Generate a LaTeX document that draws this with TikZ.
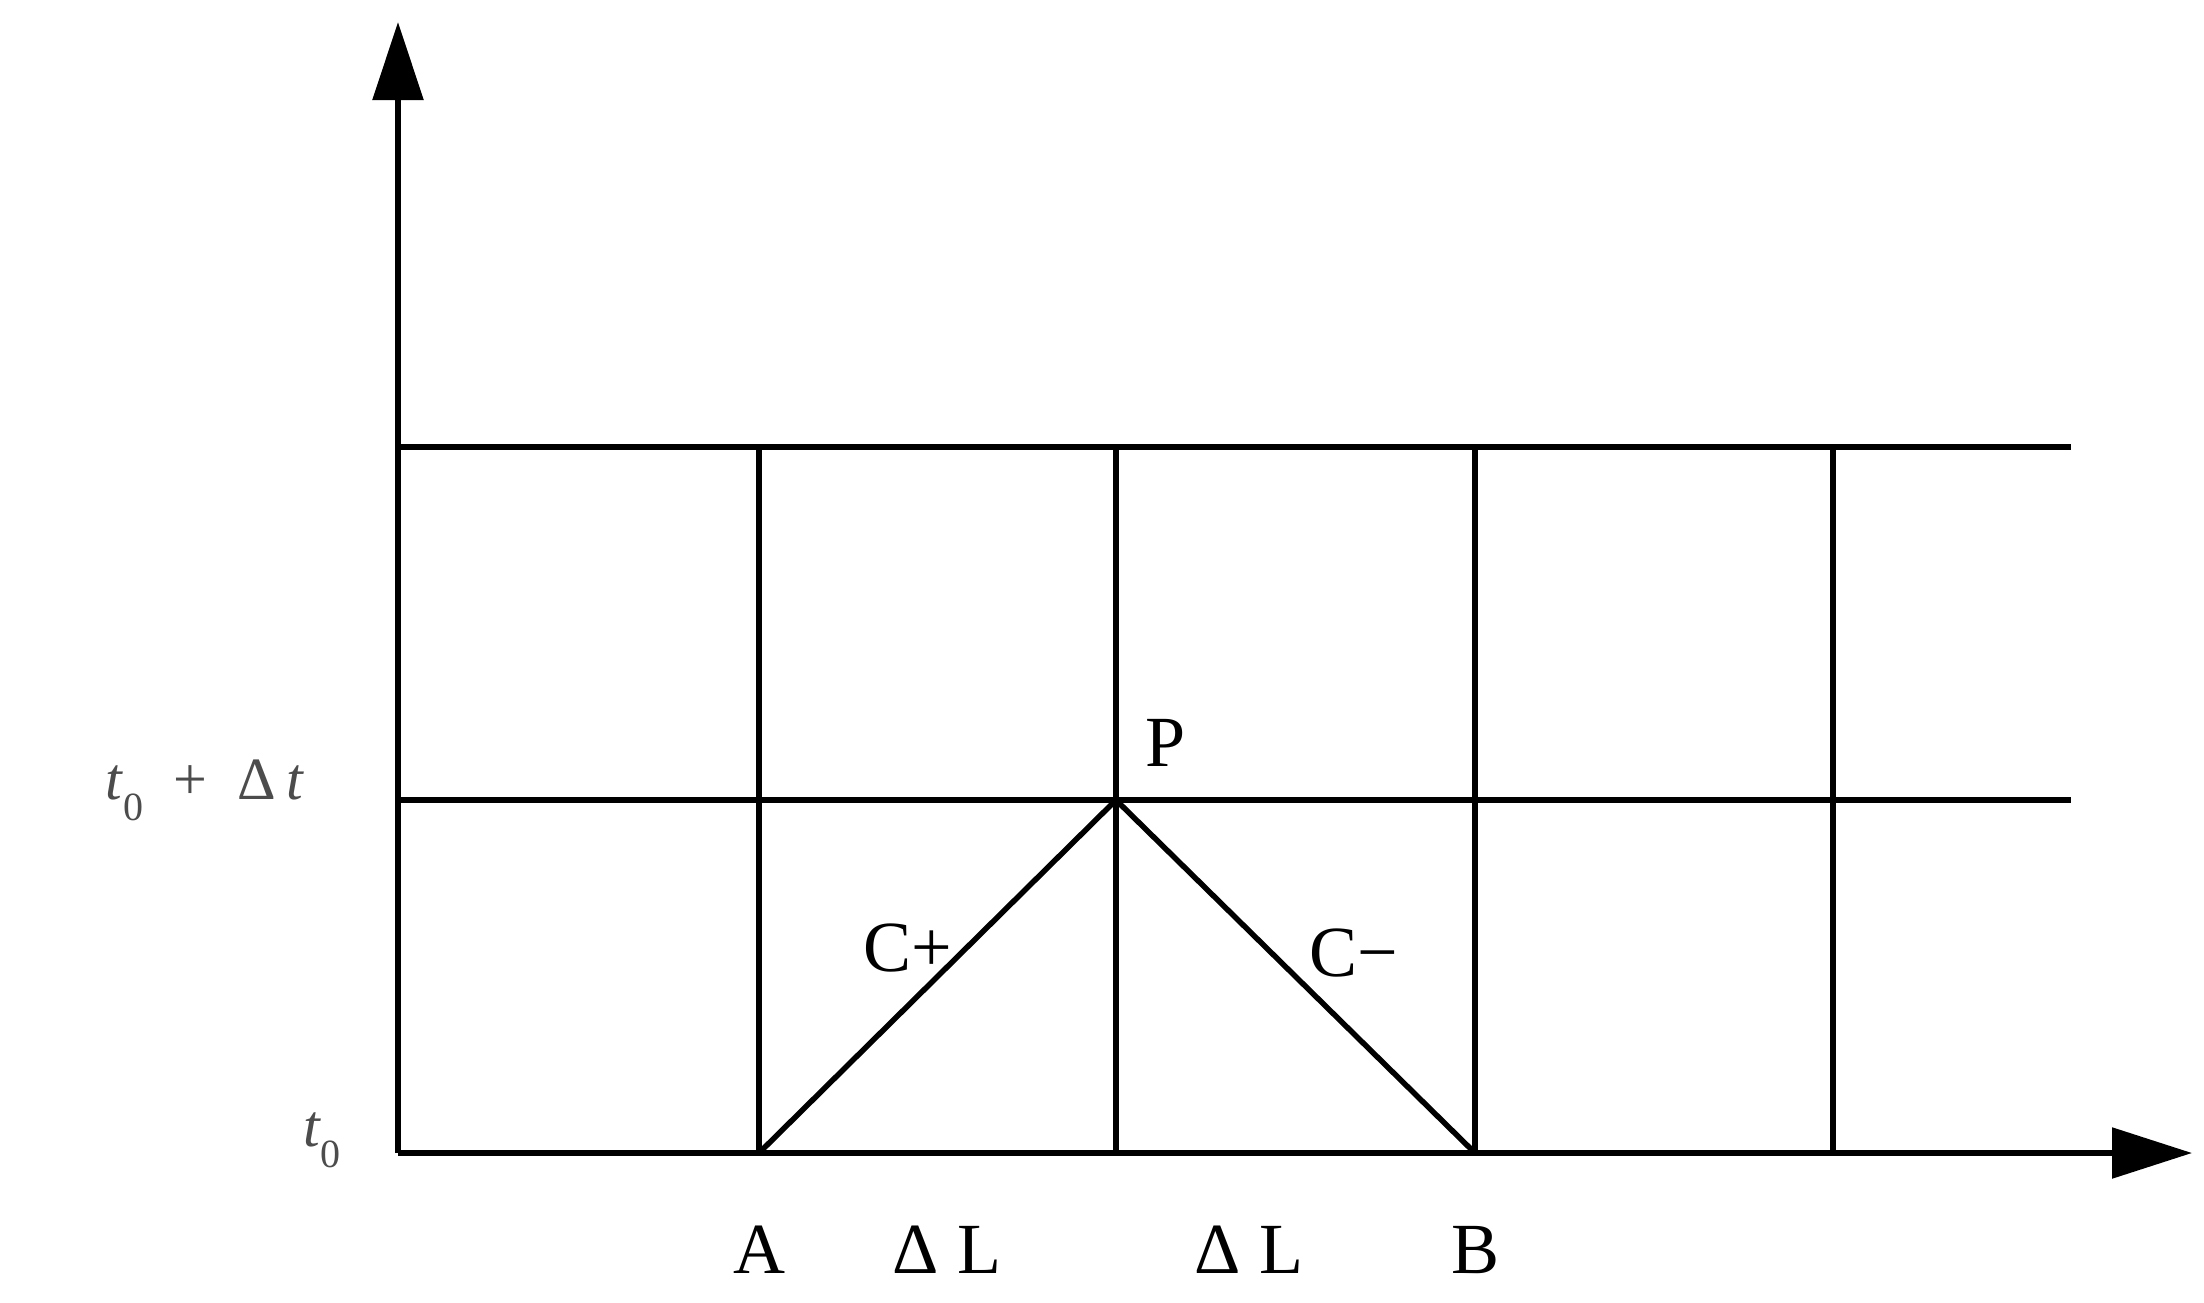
\documentclass[tikz,border=0pt]{standalone}
\usepackage{fontspec}
\setmainfont{Liberation Serif}
\usetikzlibrary{arrows.meta}
\newcommand{\subz}{\raisebox{-0.35em}{\fontsize{40}{40}\selectfont 0}}
\begin{document}
\begin{tikzpicture}[x=1pt,y=-1pt,
  ln/.style={line width=5.5pt},
  lbl/.style={font=\fontsize{72}{72}\selectfont},
  tl/.style={font=\fontsize{60}{60}\selectfont,text=gray!60!black}]
\useasboundingbox (0,0) rectangle (2204,1302);
\coordinate (O) at (398,1153);
\coordinate (ytop) at (398,22);
\coordinate (xend) at (2192,1153);
\draw[ln,-{Triangle[length=78pt,width=50pt]}] (O) -- (ytop);
\draw[ln,-{Triangle[length=80pt,width=50pt]}] (O) -- (xend);
\coordinate (m0) at (398,800); \coordinate (m1) at (2071,800);
\coordinate (t0) at (398,447); \coordinate (t1) at (2071,447);
\draw[ln] (m0) -- (m1);
\draw[ln] (t0) -- (t1);
\foreach \x/\n in {759/a,1116/p,1475/b,1833/e}{
  \coordinate (\n1) at (\x,1153); \coordinate (\n2) at (\x,447);
  \draw[ln] (\n1) -- (\n2);}
\coordinate (A) at (759,1153); \coordinate (P) at (1116,800); \coordinate (B) at (1475,1153);
\draw[ln] (A) -- (P) -- (B);
\node[lbl] (lP) at (1166,743) {P};
\node[lbl] (lCp) at (908,948) {C+};
\node[lbl] (lCm) at (1354,953) {C−};
\node[lbl] (lA) at (759,1250) {A};
\node[lbl] (lD1) at (947,1250) {Δ L};
\node[lbl] (lD2) at (1249,1250) {Δ L};
\node[lbl] (lB) at (1475,1250) {B};
\node[tl] (lt1) at (205,790) {\textit{t}\subz\ \ +\ \ Δ\,\textit{t}};
\node[tl] (lt0) at (322,1140) {\textit{t}\subz};
\end{tikzpicture}
\end{document}
